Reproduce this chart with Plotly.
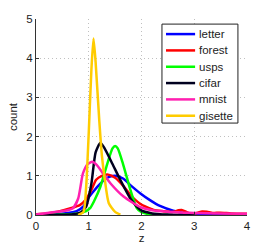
import plotly.graph_objects as go

# Data
letter_z = [0, 0.4, 0.77, 0.9, 1.0, 1.1, 1.22, 1.35, 1.5, 1.65, 1.8, 1.98, 2.16, 2.35, 2.6, 2.86, 3.1, 3.5, 4.0]
letter_c = [0, 0.02, 0.1, 0.22, 0.45, 0.62, 0.8, 0.95, 1.0, 0.93, 0.75, 0.55, 0.38, 0.23, 0.11, 0.04, 0.02, 0.01, 0.0]

forest_z = [0, 0.2, 0.39, 0.64, 0.83, 0.95, 1.05, 1.14, 1.25, 1.37, 1.5, 1.65, 1.79, 1.98, 2.1, 2.23, 2.4, 2.6,
            2.7, 2.76, 2.85, 2.92, 3.05, 3.15, 3.24, 3.35, 3.49, 3.7, 4.0]
forest_c = [0.02, 0.04, 0.08, 0.17, 0.25, 0.4, 0.64, 0.9, 1.0, 1.03, 0.95, 0.75, 0.51, 0.28, 0.2, 0.13, 0.1, 0.08,
            0.12, 0.13, 0.08, 0.04, 0.05, 0.09, 0.08, 0.05, 0.06, 0.04, 0.03]

usps_z = [0, 0.5, 0.8, 0.95, 1.03, 1.1, 1.22, 1.35, 1.45, 1.5, 1.55, 1.65, 1.79, 1.91, 2.0, 2.2, 2.5]
usps_c = [0, 0.01, 0.04, 0.1, 0.18, 0.35, 0.72, 1.3, 1.7, 1.76, 1.7, 1.3, 0.64, 0.18, 0.07, 0.01, 0.0]

cifar_z = [0, 0.7, 0.85, 0.95, 1.05, 1.13, 1.22, 1.3, 1.45, 1.6, 1.8, 1.98, 2.2, 2.5, 3.0]
cifar_c = [0, 0.02, 0.07, 0.21, 0.8, 1.6, 1.84, 1.7, 1.3, 0.89, 0.4, 0.13, 0.04, 0.01, 0.0]

mnist_z = [0, 0.39, 0.6, 0.7, 0.8, 0.89, 0.98, 1.07, 1.15, 1.25, 1.41, 1.66, 1.98, 2.2, 2.5, 2.8, 3.0, 3.5, 4.0]
mnist_c = [0.01, 0.08, 0.12, 0.17, 0.42, 1.06, 1.3, 1.36, 1.28, 1.1, 0.81, 0.47, 0.2, 0.12, 0.08, 0.06, 0.05, 0.04, 0.03]

gisette_z = [0.8, 0.9, 0.95, 1.0, 1.05, 1.09, 1.13, 1.2, 1.25, 1.3, 1.38, 1.5, 1.6]
gisette_c = [0, 0.08, 0.7, 2.1, 3.7, 4.5, 3.9, 2.4, 1.5, 0.95, 0.3, 0.08, 0.01]

x_ticks = [0, 1, 2, 3, 4]
y_ticks = [0, 1, 2, 3, 4, 5]

series = [
    ("letter", letter_z, letter_c, "#0000ff"),
    ("forest", forest_z, forest_c, "#ff0000"),
    ("usps", usps_z, usps_c, "#00ff00"),
    ("cifar", cifar_z, cifar_c, "#00001f"),
    ("mnist", mnist_z, mnist_c, "#ff1fb0"),
    ("gisette", gisette_z, gisette_c, "#ffcc00"),
]

fig = go.Figure()
for name, zs, cs, col in series:
    fig.add_trace(go.Scatter(x=zs, y=cs, name=name, mode="lines", showlegend=False,
                             line=dict(color=col, width=2.5, shape="spline", smoothing=0.6)))

font = dict(family="Liberation Sans, Arial, sans-serif", size=11.5, color="#222")
axis_common = dict(showline=True, linecolor="#333", linewidth=1, ticks="inside", ticklen=3,
                   tickcolor="#333", showgrid=True, gridcolor="#c0c0c0", griddash="1px,3px",
                   gridwidth=1, zeroline=False, tickfont=font, mirror=False, automargin=False)

# Legend box drawn in paper coordinates (MATLAB-style compact legend)
shapes = [dict(type="rect", xref="paper", yref="paper", x0=0.597, x1=0.957, y0=0.469, y1=0.974,
               line=dict(color="#222", width=1), fillcolor="white", layer="above")]
annotations = []
entry_y0 = 0.923
entry_step = 0.0833
for i, (name, _, _, col) in enumerate(series):
    yy = entry_y0 - i * entry_step
    shapes.append(dict(type="line", xref="paper", yref="paper", x0=0.616, x1=0.754, y0=yy, y1=yy,
                       line=dict(color=col, width=2.5), layer="above"))
    annotations.append(dict(text=name, xref="paper", yref="paper", x=0.765, y=yy, xanchor="left",
                            yanchor="middle", showarrow=False, font=font))

fig.update_layout(
    width=274, height=246,
    margin=dict(l=36, r=27, t=19, b=31),
    paper_bgcolor="white", plot_bgcolor="white",
    font=font,
    xaxis=dict(range=[0, 4], tickvals=x_ticks, title=dict(text="z", font=font, standoff=0), **axis_common),
    yaxis=dict(range=[0, 5], tickvals=y_ticks, title=dict(text="count", font=font, standoff=6), **axis_common),
    shapes=shapes,
    annotations=annotations,
    showlegend=False,
)

fig.write_html("out.html", config={"displayModeBar": False},
               post_script="document.body.style.margin='0';document.body.style.padding='0';")
